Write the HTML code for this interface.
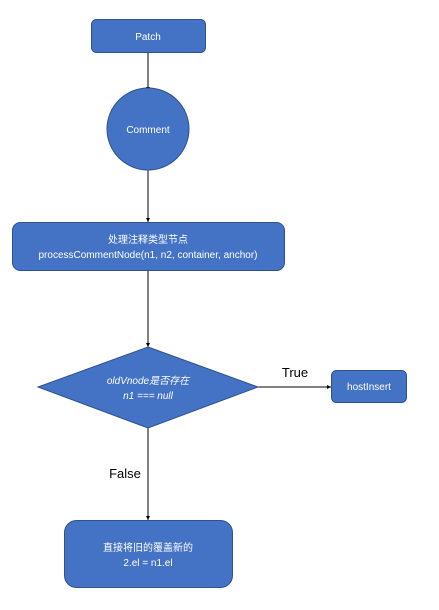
<!DOCTYPE html>
<html><head><meta charset="utf-8"><style>
html,body{margin:0;padding:0;background:#fff;}
svg{display:block;}
text{font-family:"Liberation Sans","Noto Sans CJK SC",sans-serif;}
</style></head><body>
<svg width="439" height="610" viewBox="0 0 439 610" xmlns="http://www.w3.org/2000/svg">
<defs><marker id="a" markerWidth="4" markerHeight="4" refX="4" refY="2" orient="auto" markerUnits="userSpaceOnUse"><path d="M0,0 L4,2 L0,4 z" fill="#000"/></marker></defs>
<g stroke="#000" stroke-width="1" fill="none">
<line x1="148" y1="52" x2="148" y2="91" marker-end="url(#a)"/>
<line x1="148" y1="168" x2="148" y2="222" marker-end="url(#a)"/>
<line x1="148" y1="270" x2="148" y2="347" marker-end="url(#a)"/>
<line x1="258" y1="387" x2="331" y2="387" marker-end="url(#a)"/>
<line x1="148" y1="428" x2="148" y2="520" marker-end="url(#a)"/>
</g>
<g fill="#4472c4" stroke="#2f528f" stroke-width="1">
<rect x="91.5" y="19.5" width="114" height="33" rx="5"/>
<circle cx="148" cy="129" r="41"/>
<rect x="12.5" y="222.5" width="272" height="48" rx="8"/>
<polygon points="148,347 258,387 148,428 38,387"/>
<rect x="331.5" y="370.5" width="75" height="32" rx="5"/>
<rect x="64.5" y="520.5" width="168" height="67" rx="12"/>
</g>
<g fill="#fff" font-size="10" text-anchor="middle">
<text x="148" y="40">Patch</text>
<text x="148" y="133">Comment</text>
<text x="148" y="243">处理注释类型节点</text>
<text x="148" y="258">processCommentNode(n1, n2, container, anchor)</text>
<text x="148" y="384" font-style="italic">oldVnode是否存在</text>
<text x="148" y="399" font-style="italic">n1 === null</text>
<text x="369" y="390">hostInsert</text>
<text x="148" y="551">直接将旧的覆盖新的</text>
<text x="148" y="566">2.el = n1.el</text>
</g>
<g fill="#000" font-size="13" text-anchor="middle">
<text x="295" y="377">True</text>
<text x="125" y="478">False</text>
</g>
</svg>
</body></html>
